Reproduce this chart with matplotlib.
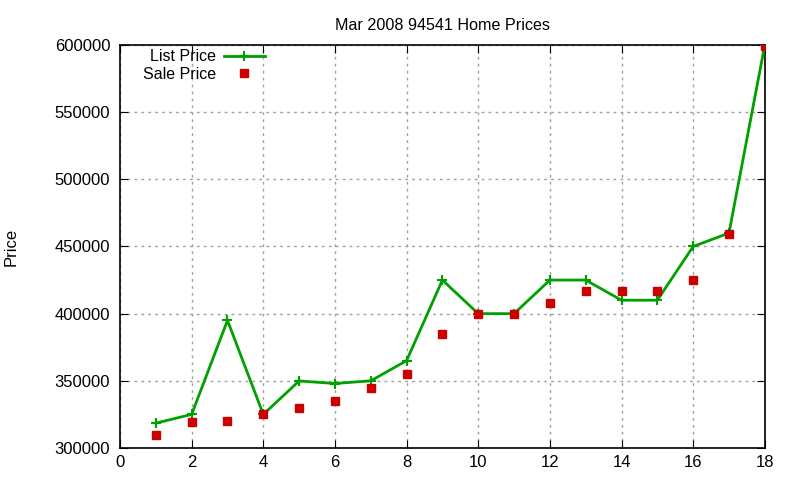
import matplotlib
matplotlib.use("Agg")
import matplotlib.pyplot as plt

plt.rcParams['font.family'] = ['Liberation Sans', 'DejaVu Sans']

houses = list(range(1, 19))
list_price = [318500, 325000, 395000, 325000, 349900, 348000, 350000, 365000, 425000,
              400000, 400000, 425000, 425000, 410000, 410000, 450000, 460000, 600000]
sale_price = [310000, 319000, 320000, 325000, 330000, 335000, 345000, 355000, 385000,
              400000, 400000, 408000, 417000, 417000, 417000, 425000, 459000, 599000]

fig = plt.figure(figsize=(8, 4.8), dpi=100)
ax = fig.add_axes([0.15, 0.0667, 0.806, 0.8396])

ax.plot(houses, list_price, color='#00a000', lw=2, marker='+', ms=7, mew=1.5,
        label='List Price', zorder=3)
ax.plot(houses, sale_price, ls='none', color='#cc0000', marker='s', ms=6,
        label='Sale Price', zorder=4)

ax.set_xlim(0, 18)
ax.set_ylim(300000, 600000)
ax.set_xticks(range(0, 19, 2))
ax.set_yticks(range(300000, 600001, 50000))
ax.tick_params(direction='in', length=6, top=True, right=True, labelsize=12)
ax.tick_params(axis='y', pad=7)
ax.tick_params(axis='x', pad=5)
ax.grid(True, color='#a0a0a0', ls=(0, (2, 3)), lw=1)
for s in ax.spines.values():
    s.set_linewidth(1.2)

ax.set_title('Mar 2008 94541 Home Prices', fontsize=11.6, pad=11)
ax.set_ylabel('Price', fontsize=12, labelpad=26)

leg = ax.legend(loc='upper left', markerfirst=False, frameon=False, fontsize=11.5,
                handlelength=2.6, handletextpad=0.5, borderaxespad=0,
                labelspacing=0.15, bbox_to_anchor=(0.025, 1.005))
for t in leg.get_texts():
    t.set_ha('right')

fig.savefig('out.png')
